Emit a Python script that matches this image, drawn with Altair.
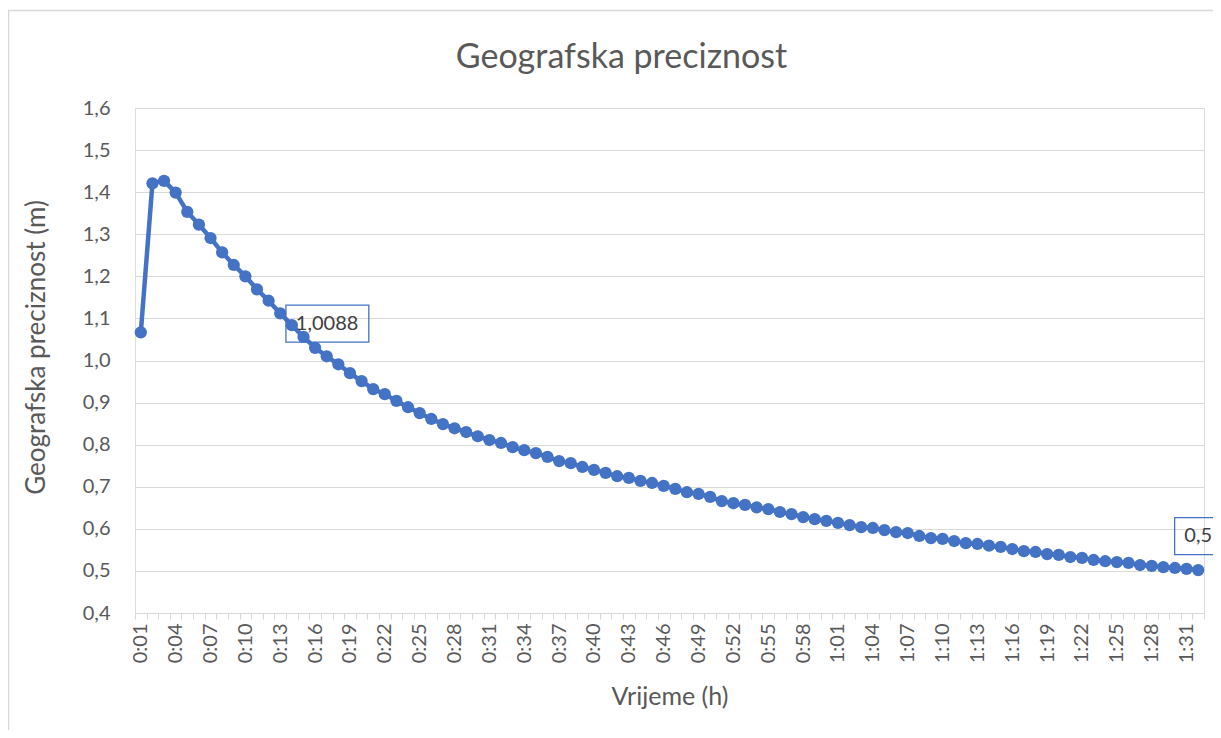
import altair as alt
import pandas as pd

times = (
    "0:01 0:02 0:03 0:04 0:05 0:06 0:07 0:08 0:09 0:10 0:11 0:12 0:13 0:14 0:15 "
    "0:16 0:17 0:18 0:19 0:20 0:21 0:22 0:23 0:24 0:25 0:26 0:27 0:28 0:29 0:30 "
    "0:31 0:32 0:33 0:34 0:35 0:36 0:37 0:38 0:39 0:40 0:41 0:42 0:43 0:44 0:45 "
    "0:46 0:47 0:48 0:49 0:50 0:51 0:52 0:53 0:54 0:55 0:56 0:57 0:58 0:59 1:00 "
    "1:01 1:02 1:03 1:04 1:05 1:06 1:07 1:08 1:09 1:10 1:11 1:12 1:13 1:14 1:15 "
    "1:16 1:17 1:18 1:19 1:20 1:21 1:22 1:23 1:24 1:25 1:26 1:27 1:28 1:29 1:30 "
    "1:31 1:32"
).split()

precision = [
    1.067, 1.421, 1.427, 1.399, 1.353, 1.323, 1.291, 1.257, 1.227, 1.200,
    1.169, 1.142, 1.112, 1.084, 1.056, 1.030, 1.010,
    0.991, 0.970, 0.951, 0.932, 0.920, 0.904, 0.889, 0.875, 0.861, 0.849,
    0.839, 0.830, 0.820, 0.811,
    0.804, 0.794, 0.787, 0.780, 0.771, 0.761, 0.756, 0.747, 0.740, 0.733,
    0.725, 0.721, 0.714, 0.709, 0.702, 0.695, 0.687, 0.683, 0.676, 0.666,
    0.661, 0.657, 0.651, 0.647, 0.640, 0.635, 0.628, 0.623, 0.619, 0.614,
    0.609, 0.604, 0.602, 0.597, 0.592, 0.590, 0.583, 0.578, 0.576, 0.571,
    0.566, 0.564, 0.560, 0.557, 0.552, 0.547, 0.545, 0.540, 0.538, 0.533,
    0.531, 0.526, 0.523, 0.521, 0.519, 0.514, 0.512, 0.509, 0.507, 0.505,
    0.502,
]

y_ticks = [0.4, 0.5, 0.6, 0.7, 0.8, 0.9, 1.0, 1.1, 1.2, 1.3, 1.4, 1.5, 1.6]

ann_times = ["0:14", "1:32"]
ann_texts = ["1,0088", "0,5"]

df = pd.DataFrame({"t": times, "v": precision})

BLUE = "#4472C4"
TXT = "#595959"
GRID = "#D9D9D9"
FONT = "Lato"

x_enc = alt.X(
    "t:O",
    sort=times,
    bandPosition=0.5,
    scale=alt.Scale(type="band", paddingInner=0, paddingOuter=0),
    title="Vrijeme (h)",
    axis=alt.Axis(
        labelAngle=-90,
        labelAlign="right",
        labelBaseline="middle",
        labelExpr="(toNumber(split(datum.value, ':')[0]) * 60 + toNumber(split(datum.value, ':')[1]) - 1) % 3 == 0 ? datum.value : ''",
        labelOverlap=False,
        labelFont=FONT,
        labelFontSize=20,
        labelColor=TXT,
        labelPadding=4,
        ticks=True,
        tickBand="extent",
        tickSize=6,
        tickColor=GRID,
        tickWidth=1,
        domain=True,
        domainColor=GRID,
        domainWidth=1,
        grid=False,
        titleFont=FONT,
        titleFontSize=25,
        titleFontWeight="normal",
        titleColor=TXT,
        titlePadding=22,
    ),
)

y_enc = alt.Y(
    "v:Q",
    scale=alt.Scale(domain=[0.4, 1.6], nice=False, zero=False),
    title="Geografska preciznost (m)",
    axis=alt.Axis(
        values=y_ticks,
        labelExpr="replace(format(datum.value, '.1f'), '.', ',')",
        labelFont=FONT,
        labelFontSize=20,
        labelColor=TXT,
        labelPadding=25,
        ticks=False,
        domain=False,
        grid=True,
        gridColor=GRID,
        gridWidth=1,
        titleFont=FONT,
        titleFontSize=26,
        titleFontWeight="normal",
        titleColor=TXT,
        titlePadding=33,
        titleY=239,
    ),
)

base = alt.Chart(df).encode(x=x_enc, y=y_enc)

frame = alt.Chart(df.head(1)).mark_rect(
    filled=False, stroke=GRID, strokeWidth=1.5
).encode(
    x=alt.value(-126.5), x2=alt.value(1100),
    y=alt.value(-97.5), y2=alt.value(700),
)

line = base.mark_line(color=BLUE, strokeWidth=4.5)
points = base.mark_circle(color=BLUE, size=150, opacity=1)

lab1 = base.transform_filter(alt.datum.t == ann_times[0])
box1 = lab1.mark_point(
    shape="M-2.24,-1H2.24V1H-2.24Z", size=1369, filled=False,
    stroke=BLUE, strokeWidth=1.3, opacity=1, xOffset=35.5, yOffset=-1.5,
)
text1 = lab1.mark_text(
    align="left", baseline="middle", dx=4, dy=-1,
    font=FONT, fontSize=20, color="#404040",
).encode(text=alt.value(ann_texts[0]))

lab2 = base.transform_filter(alt.datum.t == ann_times[1])
box2 = lab2.mark_point(
    shape="M-1.3,-1H1.3V1H-1.3Z", size=1369, filled=False,
    stroke=BLUE, strokeWidth=1.3, opacity=1, xOffset=0.5, yOffset=-34,
)
text2 = lab2.mark_text(
    align="center", baseline="middle", dy=-34,
    font=FONT, fontSize=20, color="#404040",
).encode(text=alt.value(ann_texts[1]))

chart = alt.layer(frame, line, points, box1, text1, box2, text2).properties(
    width=1069,
    height=505,
    title=alt.TitleParams(
        "Geografska preciznost",
        font=FONT, fontSize=34, fontWeight="normal", color=TXT,
        anchor="middle", frame="group", dx=-48, offset=-65,
    ),
    autosize=alt.AutoSizeParams(type="none"),
    padding={"left": 127, "top": 100, "right": 9, "bottom": 117},
).configure_view(stroke=None).configure(background="white")

chart.save("out.html", embed_options={"renderer": "svg", "actions": False})
